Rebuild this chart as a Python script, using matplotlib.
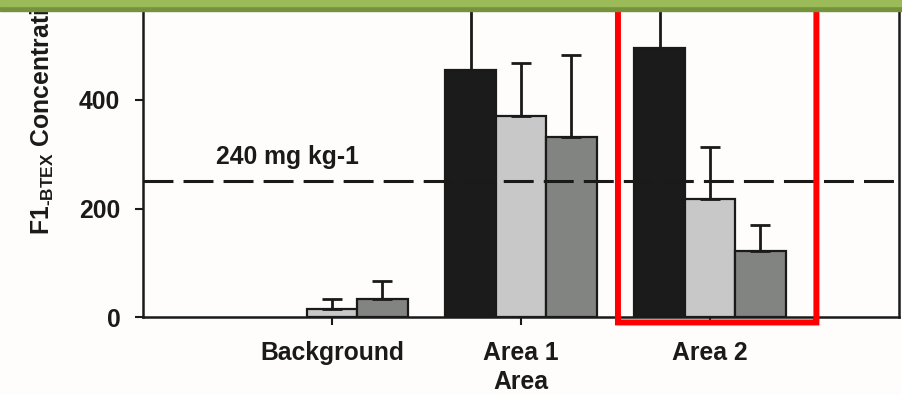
import numpy as np
import matplotlib.pyplot as plt
from matplotlib.patches import Rectangle, FancyBboxPatch

plt.rcParams['font.family'] = ['Liberation Sans', 'DejaVu Sans']
plt.rcParams['font.weight'] = 'bold'
plt.rcParams['mathtext.fontset'] = 'custom'
plt.rcParams['mathtext.bf'] = 'Liberation Sans:bold'
plt.rcParams['mathtext.rm'] = 'Liberation Sans:bold'
plt.rcParams['mathtext.default'] = 'bf'

# data
categories = ['Background', 'Area 1', 'Area 2']
black_vals = [0, 455, 496]
black_err = [0, 190, 150]
light_vals = [16, 370, 218]
light_err = [17, 98, 95]
dark_vals = [34, 332, 122]
dark_err = [33, 151, 47]
yticks = [0, 200, 400]
threshold = 250
threshold_label = '240 mg kg-1'

ink = '#1a1a1a'
bg = '#fefdfc'
fs = 17.8

fig = plt.figure(figsize=(9.03, 3.95), dpi=100, facecolor=bg)
# axes top runs past the top edge of the picture (cropped slide)
ax = fig.add_axes([143 / 903, 1 - 317.3 / 395, 756 / 903, 326 / 395])
ax.set_facecolor(bg)

x = np.arange(1, len(categories) + 1)
w = 0.8 / 3
series = [
    (black_vals, black_err, '#1b1b1b'),
    (light_vals, light_err, '#c8c8c8'),
    (dark_vals, dark_err, '#828482'),
]
for i, (vals, errs, col) in enumerate(series):
    pos = x + (i - 1) * w
    lws = [1.6 if v > 0 else 0 for v in vals]
    ax.bar(pos, vals, width=w, color=col, edgecolor=ink, linewidth=lws,
           zorder=2)
    keep = [j for j, e in enumerate(errs) if e > 0]
    ax.errorbar(pos[keep], np.array(vals)[keep],
                yerr=[np.zeros(len(keep)), np.array(errs)[keep]],
                fmt='none', ecolor=ink, elinewidth=2.0, capsize=7.2,
                capthick=2.0, zorder=3)

ax.axhline(threshold, color=ink, lw=2.2, linestyle=(0, (9.8, 3.3)), zorder=4)
ax.text(0.762, 295, threshold_label, ha='center', va='center',
        fontsize=fs, fontweight='bold', color=ink)

ax.set_xlim(0, 4)
ax.set_ylim(0, 600)
ax.set_xticks(x)
ax.set_xticklabels(categories)
ax.set_yticks(yticks)
ax.tick_params(axis='both', direction='out', length=5.8, width=1.5,
               color=ink, labelsize=fs, labelcolor=ink)
ax.tick_params(axis='y', pad=10.5)
ax.tick_params(axis='x', pad=11.5)
ax.set_xlabel('Area', fontsize=fs, fontweight='bold', color=ink, labelpad=3.5)
for s in ax.spines.values():
    s.set_linewidth(1.8)
    s.set_color(ink)

fig.text(41 / 903, 1 - 235 / 395,
         r'F1$_{\text{-BTEX}}$ Concentration (mg kg$^{-1}$)',
         rotation=90, ha='center', va='bottom', fontsize=fs,
         fontweight='bold', color=ink)

# red highlight box around Area 2 (slide overlay)
hl = FancyBboxPatch((2.513, -9.5), 1.05, 700,
                    boxstyle='round,pad=0,rounding_size=0.02',
                    transform=ax.transData, fill=False, edgecolor='#ff0000',
                    linewidth=4.3, clip_on=False, zorder=6)
ax.add_patch(hl)

# green slide header band
fig.patches.append(Rectangle((0, 1 - 11 / 395), 1, 11 / 395,
                             transform=fig.transFigure, color='#76923c',
                             zorder=10))
fig.patches.append(Rectangle((0, 1 - 5.5 / 395), 1, 5.5 / 395,
                             transform=fig.transFigure, color='#9bbb59',
                             zorder=11))

fig.savefig('out.png', dpi=100, facecolor=bg)
